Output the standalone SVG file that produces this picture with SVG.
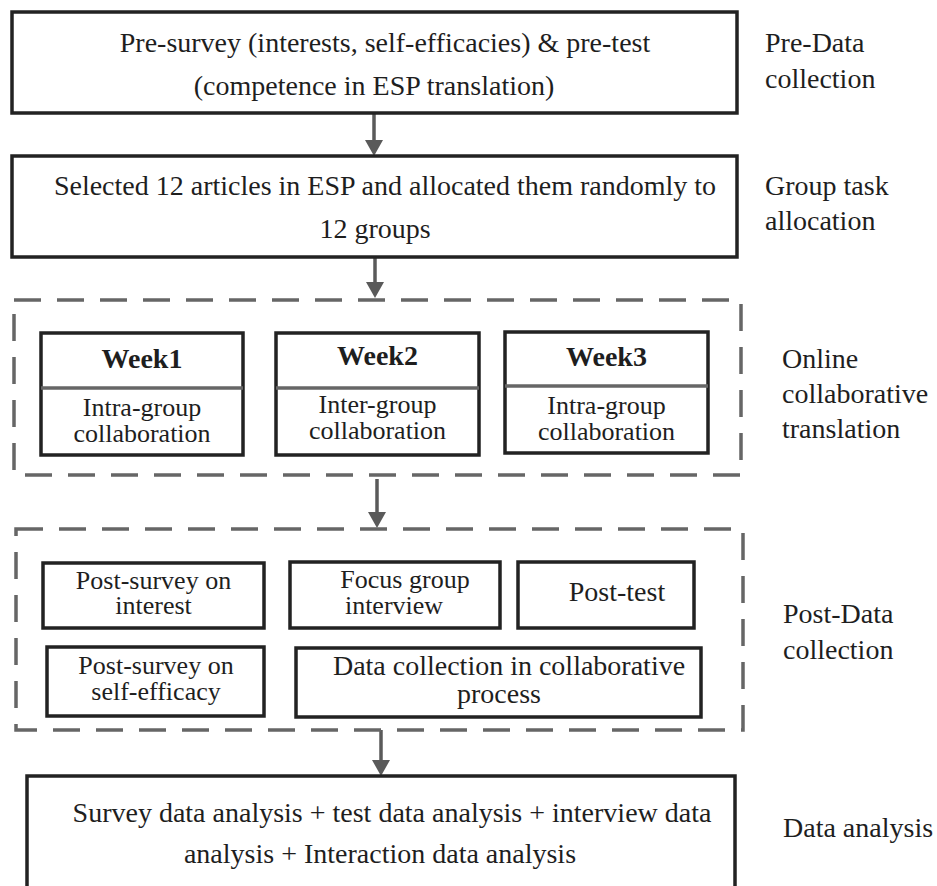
<svg xmlns="http://www.w3.org/2000/svg" width="937" height="886" viewBox="0 0 937 886">
<style>
text{font-family:"Times New Roman",Times,Tinos,"Liberation Serif","DejaVu Serif","Noto Serif",serif;font-size:28px;fill:#1e1e1e}
.c{text-anchor:middle}
.b{font-weight:bold}
.t{font-size:26px}
.box{fill:#fff;stroke:#222;stroke-width:3.5}
.dash{fill:none;stroke:#666;stroke-width:3.5;stroke-dasharray:27 16}
.div{stroke:#666;stroke-width:3.5}
.conn{stroke:#5a5a5a;stroke-width:3.5;fill:none}
</style>
<defs>
<polygon id="tri" points="-9,-16 9,-16 0,0" fill="#5a5a5a"/>
</defs>
<rect width="937" height="886" fill="#fff"/>
<g id="connectors">
<line class="conn" x1="374" y1="113" x2="374" y2="142"/>
<use href="#tri" x="374" y="156"/>
<line class="conn" x1="375" y1="257" x2="375" y2="284"/>
<use href="#tri" x="375" y="298"/>
<line class="conn" x1="377" y1="479" x2="377" y2="514"/>
<use href="#tri" x="377" y="528"/>
<line class="conn" x1="381" y1="730" x2="381" y2="762"/>
<use href="#tri" x="381" y="776"/>
</g>
<g id="pre-data">
<rect class="box" x="12" y="12" width="725" height="101"/>
<text class="c" x="385" y="52">Pre-survey (interests, self-efficacies) &amp; pre-test</text>
<text class="c" x="374" y="95">(competence in ESP translation)</text>
</g>
<g id="group-task">
<rect class="box" x="12" y="156" width="725" height="101"/>
<text class="c" x="385" y="195">Selected 12 articles in ESP and allocated them randomly to</text>
<text class="c" x="375" y="238">12 groups</text>
</g>
<g id="online-group">
<rect class="dash" x="14" y="300" width="727" height="175"/>
</g>
<g id="week1">
<rect class="box" x="41" y="333" width="202" height="122"/>
<line class="div" x1="41" y1="388" x2="243" y2="388"/>
<text class="c b" x="142" y="368">Week1</text>
<text class="c t" x="142" y="416">Intra-group</text>
<text class="c t" x="142" y="442">collaboration</text>
</g>
<g id="week2">
<rect class="box" x="276" y="333" width="203" height="122"/>
<line class="div" x1="276" y1="388" x2="479" y2="388"/>
<text class="c b" x="377.5" y="365">Week2</text>
<text class="c t" x="377.5" y="413">Inter-group</text>
<text class="c t" x="377.5" y="439">collaboration</text>
</g>
<g id="week3">
<rect class="box" x="505" y="332" width="203" height="121"/>
<line class="div" x1="505" y1="386" x2="708" y2="386"/>
<text class="c b" x="606.5" y="366">Week3</text>
<text class="c t" x="606.5" y="414">Intra-group</text>
<text class="c t" x="606.5" y="440">collaboration</text>
</g>
<g id="post-group">
<rect class="dash" x="16" y="529" width="727" height="201"/>
</g>
<g id="post-interest">
<rect class="box" x="43" y="563" width="221" height="65"/>
<text class="c t" x="153.5" y="589">Post-survey on</text>
<text class="c t" x="153.5" y="614">interest</text>
</g>
<g id="focus-group">
<rect class="box" x="290" y="562" width="210" height="66"/>
<text class="c t" x="405" y="588">Focus group</text>
<text class="c t" x="394" y="614">interview</text>
</g>
<g id="post-test">
<rect class="box" x="518" y="562" width="176" height="66"/>
<text class="c" x="617" y="601">Post-test</text>
</g>
<g id="post-selfefficacy">
<rect class="box" x="47" y="647" width="217" height="69"/>
<text class="c t" x="156" y="674">Post-survey on</text>
<text class="c t" x="156" y="700">self-efficacy</text>
</g>
<g id="data-collection">
<rect class="box" x="296" y="648" width="405" height="69"/>
<text class="c" x="509" y="675">Data collection in collaborative</text>
<text class="c" x="499" y="703">process</text>
</g>
<g id="data-analysis">
<rect class="box" x="27" y="776" width="708" height="130"/>
<text class="c" x="392" y="822">Survey data analysis + test data analysis + interview data</text>
<text class="c" x="380" y="863">analysis + Interaction data analysis</text>
</g>
<g id="labels">
<text x="765" y="52">Pre-Data</text>
<text x="765" y="88">collection</text>
<text x="765" y="195">Group task</text>
<text x="765" y="230">allocation</text>
<text x="782" y="368">Online</text>
<text x="782" y="403">collaborative</text>
<text x="782" y="438">translation</text>
<text x="783" y="623">Post-Data</text>
<text x="783" y="659">collection</text>
<text x="783" y="837">Data analysis</text>
</g>
</svg>
